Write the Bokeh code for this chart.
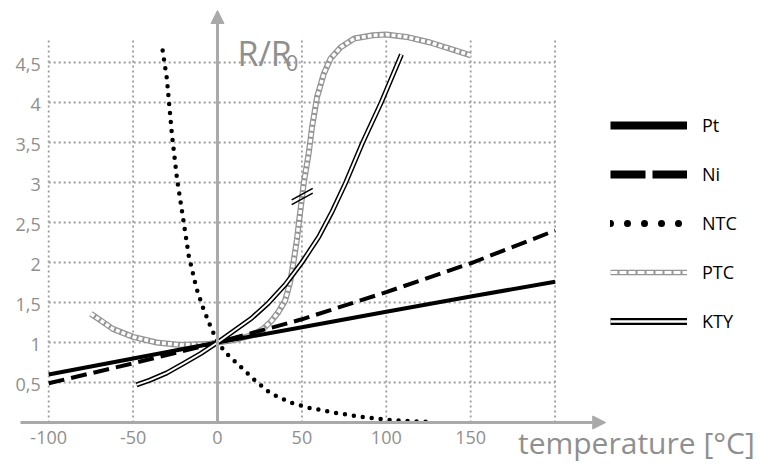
from bokeh.plotting import figure
from bokeh.models import Arrow, NormalHead, Legend, LegendItem, ColumnDataSource, Range1d
from bokeh.core.properties import value
from bokeh.embed import file_html
from bokeh.resources import INLINE

# ---- data ----
pt_T = [-100, -50, 0, 50, 100, 150, 200]
pt_R = [0.60, 0.80, 1.00, 1.19, 1.385, 1.575, 1.76]

ni_T = [-100, -50, 0, 50, 100, 150, 200]
ni_R = [0.49, 0.74, 1.00, 1.29, 1.63, 1.99, 2.40]

ntc_T = [-32.5, -30, -27, -24, -20, -17, -12.5, -8.5, -4.5, 0, 6, 14, 22, 31, 43, 55, 70, 85, 100, 115, 127]
ntc_R = [4.65, 4.30, 3.60, 3.05, 2.50, 2.08, 1.68, 1.43, 1.22, 1.00, 0.85, 0.69, 0.53, 0.37, 0.25, 0.18, 0.12, 0.07, 0.035, 0.015, 0.005]

ptc_T = [-75, -62, -50, -36, -22, -6, 0, 10, 20, 27, 32, 36, 40, 43, 45, 47, 48.5, 50, 51, 54, 56, 59, 63, 67, 73, 81, 92, 100, 112, 126, 138, 150]
ptc_R = [1.36, 1.17, 1.07, 1.00, 0.97, 0.98, 1.00, 1.03, 1.09, 1.17, 1.27, 1.38, 1.52, 1.75, 2.00, 2.28, 2.55, 2.80, 2.98, 3.36, 3.69, 4.07, 4.36, 4.55, 4.69, 4.80, 4.84, 4.85, 4.82, 4.75, 4.67, 4.59]

kty_T = [-48, -40, -30, -20, -10, 0, 10, 20, 30, 40, 50, 60, 68, 76, 86, 97, 106, 109]
kty_R = [0.47, 0.53, 0.62, 0.74, 0.86, 1.00, 1.15, 1.30, 1.49, 1.72, 2.00, 2.32, 2.64, 3.00, 3.50, 4.00, 4.45, 4.60]

x_ticks = [-100, -50, 0, 50, 100, 150]
x_tick_labels = ["-100", "-50", "0", "50", "100", "150"]
y_ticks = [0.5, 1, 1.5, 2, 2.5, 3, 3.5, 4, 4.5]
y_tick_labels = ["0,5", "1", "1,5", "2", "2,5", "3", "3,5", "4", "4,5"]
grid_x = [-100, -50, 50, 100, 150, 200]
grid_y = [0.5, 1, 1.5, 2, 2.5, 3, 3.5, 4, 4.5]

break_T = [50.2, 50.2]
break_R = [2.855, 2.795]

series_names = ["Pt", "Ni", "NTC", "PTC", "KTY"]
NAN = float("nan")

FONT = value("Open Sans")
GRAY_TXT = "#8f8f8f"
GRAY_AX = "#a9a9a9"
GRID_C = "#9c9c9c"
PTC_C = "#959595"

p = figure(width=772, height=463,
           x_range=Range1d(-128.55, 328.8), y_range=Range1d(-0.5125, 5.275),
           output_backend="svg", toolbar_location=None,
           x_axis_location=None, y_axis_location=None, min_border=0)
p.grid.visible = False
p.outline_line_color = None
p.background_fill_color = "white"
p.border_fill_color = "white"

# grid
p.segment(x0=grid_x, x1=grid_x, y0=[0] * len(grid_x), y1=[4.8] * len(grid_x),
          line_color=GRID_C, line_width=1.8, line_dash="2 3")
p.segment(x0=[-100] * len(grid_y), x1=[200] * len(grid_y), y0=grid_y, y1=grid_y,
          line_color=GRID_C, line_width=1.8, line_dash="2 3")

# axes with arrows
p.add_layout(Arrow(x_start=-116.7, y_start=0, x_end=230, y_end=0, line_color=GRAY_AX, line_width=3,
                   end=NormalHead(size=13, fill_color=GRAY_AX, line_color=GRAY_AX, line_width=1)))
p.add_layout(Arrow(x_start=0, y_start=0, x_end=0, y_end=5.15, line_color=GRAY_AX, line_width=3,
                   end=NormalHead(size=13, fill_color=GRAY_AX, line_color=GRAY_AX, line_width=1)))

# tick labels
p.text(x=x_ticks, y=[0] * len(x_ticks), text=x_tick_labels, text_align="center", text_baseline="top",
       y_offset=8, text_color=GRAY_TXT, text_font=FONT, text_font_size="18px")
p.text(x=[-100] * len(y_ticks), y=y_ticks, text=y_tick_labels, text_align="right", text_baseline="middle",
       x_offset=-8, y_offset=2, text_color=GRAY_TXT, text_font=FONT, text_font_size="18px")

# axis titles
p.text(x=[11.8], y=[4.625], text=["R/R"], text_align="left", text_baseline="alphabetic",
       text_color=GRAY_TXT, text_font=FONT, text_font_size="34px")
p.text(x=[40.5], y=[4.49], text=["0"], text_align="left", text_baseline="alphabetic",
       text_color=GRAY_TXT, text_font=FONT, text_font_size="22px")
p.text(x=[178], y=[-0.25], text=["temperature [°C]"], text_align="left", text_baseline="alphabetic",
       text_color=GRAY_TXT, text_font=FONT, text_font_size="30px")

# curves
r_ptc_o = p.line(ptc_T, ptc_R, line_color=PTC_C, line_width=6)
r_ptc_i = p.line(ptc_T, ptc_R, line_color="white", line_width=3.5, line_dash="4 2")
r_pt = p.line(pt_T, pt_R, line_color="black", line_width=4)
r_ni = p.line(ni_T, ni_R, line_color="black", line_width=4, line_dash="16 7")
r_ntc = p.line(ntc_T, ntc_R, line_color="black", line_width=4.5, line_dash="0 9", line_cap="round")
r_kty_o = p.line(kty_T, kty_R, line_color="black", line_width=5)
r_kty_i = p.line(kty_T, kty_R, line_color="white", line_width=2)

# break marks on PTC
p.scatter(x=break_T, y=break_R, marker="dash", size=24, angle=0.5, line_color="black", line_width=1.6)

# legend proxies (styled like the legend samples; draw nothing in the plot)
def legend_line(**kw):
    src = ColumnDataSource(dict(x=[NAN, NAN], y=[NAN, NAN]))
    return p.line(x="x", y="y", source=src, **kw)

l_pt = legend_line(line_color="black", line_width=8)
l_ni = legend_line(line_color="black", line_width=8, line_dash="35 7")
l_ntc = legend_line(line_color="black", line_width=7, line_dash="0 17", line_cap="round")
l_ptc_o = legend_line(line_color=PTC_C, line_width=5.5)
l_ptc_i = legend_line(line_color="white", line_width=3, line_dash="7 2")
l_kty_o = legend_line(line_color="black", line_width=7)
l_kty_i = legend_line(line_color="white", line_width=2.5)

legend = Legend(items=[
    LegendItem(label=series_names[0], renderers=[l_pt]),
    LegendItem(label=series_names[1], renderers=[l_ni]),
    LegendItem(label=series_names[2], renderers=[l_ntc]),
    LegendItem(label=series_names[3], renderers=[l_ptc_o, l_ptc_i]),
    LegendItem(label=series_names[4], renderers=[l_kty_o, l_kty_i]),
], location=(610, 130), orientation="vertical", glyph_width=77, glyph_height=20, label_height=20,
    spacing=25, padding=0, margin=0, label_standoff=15, border_line_alpha=0, background_fill_alpha=0,
    label_text_font="Open Sans", label_text_font_size="18px", label_text_color="black")
p.add_layout(legend, "center")

open("out.html", "w").write(file_html(p, INLINE))
